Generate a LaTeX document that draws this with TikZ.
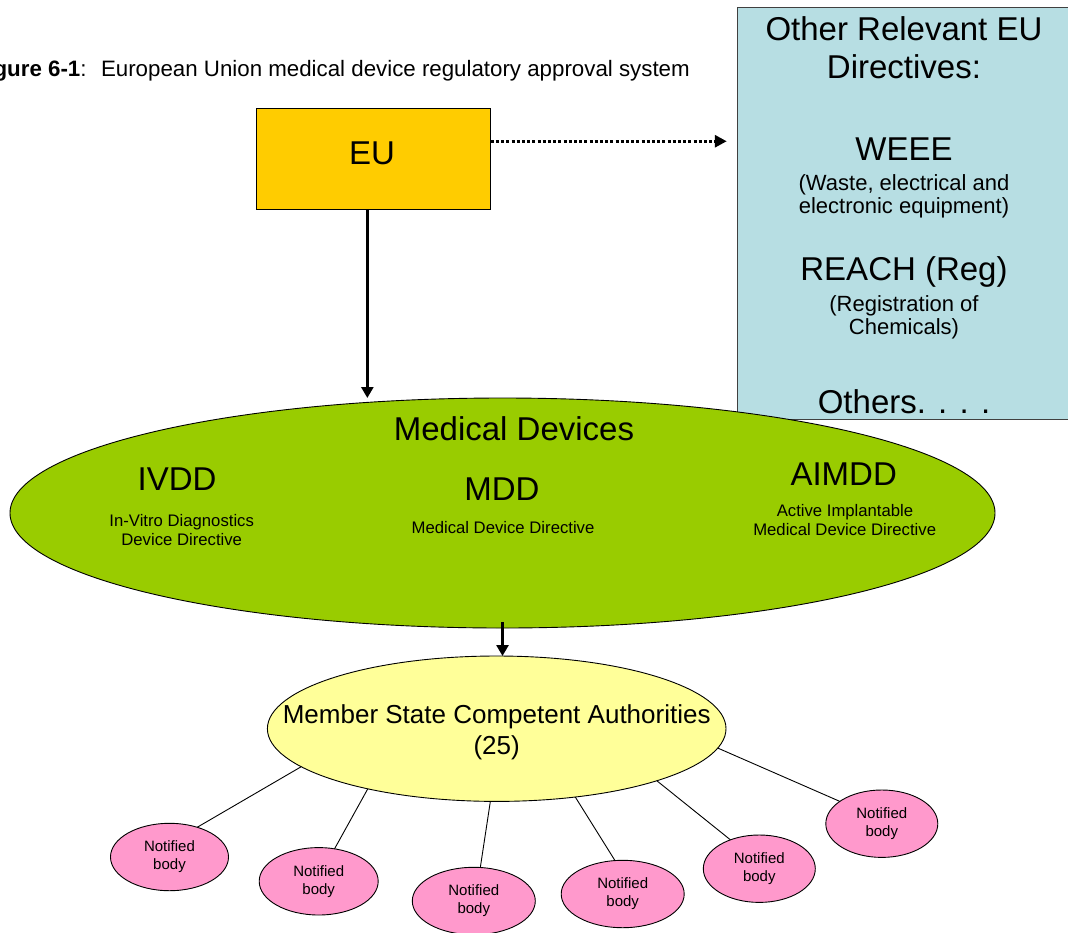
\documentclass[tikz,border=0pt]{standalone}
\usepackage{fontspec}
\setmainfont{Liberation Sans}
\usetikzlibrary{arrows.meta,shapes.geometric,calc}
\definecolor{euyellow}{HTML}{FFCC00}
\definecolor{otherblue}{HTML}{B7DEE3}
\definecolor{mdgreen}{HTML}{99CC00}
\definecolor{mscayellow}{HTML}{FFFF99}
\definecolor{nbpink}{HTML}{FF99CC}
\begin{document}
\begin{tikzpicture}[x=1pt,y=-1pt,
  txt/.style={inner sep=0pt, anchor=base},
  bigtxt/.style={txt, font=\fontsize{33}{38}\selectfont},
  midtxt/.style={txt, font=\fontsize{22}{26}\selectfont},
  smalltxt/.style={txt, font=\fontsize{16.7}{20}\selectfont},
  msctxt/.style={txt, font=\fontsize{26}{30}\selectfont},
  boxnode/.style={draw=black, line width=0.9pt, inner sep=0pt, outer sep=0pt},
  ellnode/.style={ellipse, draw=black, line width=0.9pt, inner sep=0pt, outer sep=0pt},
  nbnode/.style={ellnode, fill=nbpink, minimum height=67.4pt, align=center,
     font=\fontsize{15}{18}\selectfont},
  solidarrow/.style={line width=2.6pt, -{Triangle[length=11pt,width=12pt]}},
  dotarrow/.style={line width=3.4pt, dash pattern=on 3pt off 2.2pt,
     -{Triangle[length=12pt,width=12pt]}},
  thinline/.style={line width=0.9pt}]
\path[use as bounding box, clip] (0,0) rectangle (1068,932);

% title
\node[txt, anchor=base east, font=\fontsize{22.3}{26}\selectfont] (title) at (690,76)
  {\textbf{Figure 6-1}:~ European Union medical device regulatory approval system};

% other directives box
\node[boxnode, draw=black!75, fill=otherblue, minimum width=333.7pt, minimum height=412pt] (other) at (904.2,213.3) {};
\node[bigtxt] (o1) at (904,40) {Other Relevant EU};
\node[bigtxt] (o2) at (904,78) {Directives:};
\node[bigtxt] (o3) at (904,160) {WEEE};
\node[midtxt] (o4) at (904,190) {(Waste, electrical and};
\node[midtxt] (o5) at (904,213) {electronic equipment)};
\node[bigtxt] (o6) at (904,280) {REACH (Reg)};
\node[midtxt] (o7) at (904,311) {(Registration of};
\node[midtxt] (o8) at (904,334) {Chemicals)};
\node[bigtxt] (o9) at (904,413) {Others. . . .};

% EU box
\node[boxnode, fill=euyellow, minimum width=234.7pt, minimum height=100.7pt] (eu) at (373.35,158.65) {};
\node[bigtxt] (eutext) at (372,164) {EU};

% medical devices ellipse
\node[ellnode, fill=mdgreen, minimum width=985pt, minimum height=230pt] (md) at (502.5,513) {};
\node[bigtxt] (mdtitle) at (514,440) {Medical Devices};
\node[bigtxt] (ivdd) at (177,490) {IVDD};
\node[smalltxt] (ivdd1) at (181.7,526) {In-Vitro Diagnostics};
\node[smalltxt] (ivdd2) at (181.7,545.7) {Device Directive};
\node[bigtxt] (mdd) at (502,500) {MDD};
\node[smalltxt] (mdd1) at (503,533) {Medical Device Directive};
\node[bigtxt] (aimdd) at (843.7,485) {AIMDD};
\node[smalltxt] (aimdd1) at (845,516) {Active Implantable};
\node[smalltxt] (aimdd2) at (844.7,535.7) {Medical Device Directive};

% member state ellipse
\node[ellnode, fill=mscayellow, minimum width=458.6pt, minimum height=145.4pt] (msca) at (496.7,728.7) {};
\node[msctxt] (msca1) at (496.7,723.3) {Member State Competent Authorities};
\node[msctxt] (msca2) at (496.7,754) {(25)};

% notified bodies
\node[nbnode, minimum width=118pt] (nb1) at (169.5,857) {Notified\\body};
\node[nbnode, minimum width=119pt] (nb2) at (318.7,881.3) {Notified\\body};
\node[nbnode, minimum width=123pt] (nb3) at (473.8,901) {Notified\\body};
\node[nbnode, minimum width=123pt] (nb4) at (622.7,894) {Notified\\body};
\node[nbnode, minimum width=112pt] (nb5) at (759.3,868.7) {Notified\\body};
\node[nbnode, minimum width=112pt] (nb6) at (881.8,823.7) {Notified\\body};

% connectors
\draw[dotarrow] ([yshift=17.4pt]eu.east) -- ([yshift=17.4pt,xshift=-10.6pt]eu.east -| other.west);
\draw[solidarrow] ([xshift=-6pt]eu.south) -- ([xshift=-6pt]eu.south |- md.north);
\draw[solidarrow] ([yshift=6pt]md.south) -- (md.south |- msca.north);

\draw[thinline] (nb1.47.9) -- (msca.191.4);
\draw[thinline] (nb2.64) -- (msca.205.6);
\draw[thinline] (nb3.79.8) -- (msca.265.3);
\draw[thinline] (nb4.103.5) -- (msca.319.3);
\draw[thinline] (nb5.135.9) -- (msca.342.8);
\draw[thinline] (nb6.152.4) -- (msca.355.9);
\end{tikzpicture}
\end{document}
